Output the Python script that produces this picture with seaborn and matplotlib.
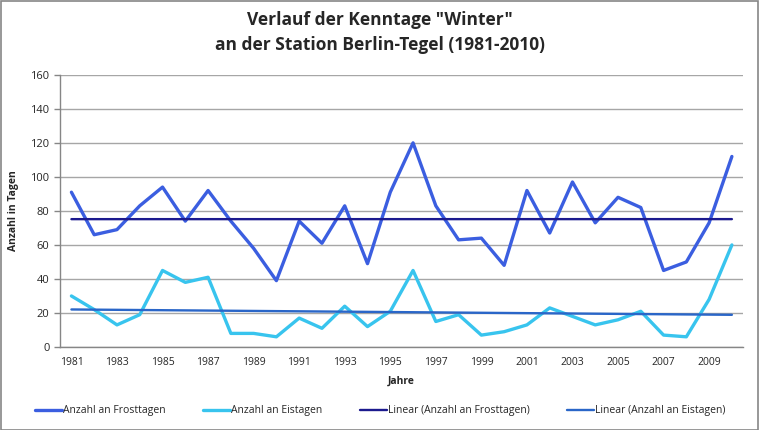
"""Kenntage Winter, Berlin-Tegel 1981-2010: Frost- und Eistage mit linearem Trend."""

import matplotlib.pyplot as plt
import numpy as np
import pandas as pd
import seaborn as sns

YEARS = list(range(1981, 2011))
FROSTTAGE = [91, 66, 69, 83, 94, 74, 92, 74, 58, 39,
             74, 61, 83, 49, 91, 120, 83, 63, 64, 48,
             92, 67, 97, 73, 88, 82, 45, 50, 73, 112]
EISTAGE = [30, 22, 13, 19, 45, 38, 41, 8, 8, 6,
           17, 11, 24, 12, 21, 45, 15, 19, 7, 9,
           13, 23, 18, 13, 16, 21, 7, 6, 28, 60]
TICK_YEARS = YEARS[::2]

C_FROST = "#3b5ee0"
C_EIS = "#38c4ee"
C_FROST_TREND = "#1c1a8e"
C_EIS_TREND = "#2a66c8"


def trend(values):
    x = np.arange(len(values))
    k, d = np.polyfit(x, values, 1)
    return k * x + d


def main():
    sns.set_theme(style="white")
    plt.rcParams["font.family"] = ["Open Sans", "DejaVu Sans"]

    pos = np.arange(len(YEARS))
    df = pd.DataFrame({
        "pos": pos,
        "frost": FROSTTAGE,
        "eis": EISTAGE,
        "frost_trend": trend(FROSTTAGE),
        "eis_trend": trend(EISTAGE),
    })

    fig = plt.figure(figsize=(7.6, 4.3), dpi=100)
    ax = fig.add_axes([0.079, 0.193, 0.899, 0.633])

    sns.lineplot(data=df, x="pos", y="frost", ax=ax, color=C_FROST, linewidth=2.4,
                 label="Anzahl an Frosttagen")
    sns.lineplot(data=df, x="pos", y="eis", ax=ax, color=C_EIS, linewidth=2.4,
                 label="Anzahl an Eistagen")
    sns.lineplot(data=df, x="pos", y="frost_trend", ax=ax, color=C_FROST_TREND, linewidth=1.7,
                 label="Linear (Anzahl an Frosttagen)")
    sns.lineplot(data=df, x="pos", y="eis_trend", ax=ax, color=C_EIS_TREND, linewidth=1.7,
                 label="Linear (Anzahl an Eistagen)")

    ax.set_xlim(-0.5, len(YEARS) - 0.5)
    ax.set_ylim(0, 160)
    ax.set_yticks(range(0, 161, 20))
    ax.yaxis.grid(True, color="#a6a6a6", linewidth=1)
    ax.set_axisbelow(True)

    ax.set_xticks([YEARS.index(y) for y in TICK_YEARS])
    ax.set_xticklabels([str(y) for y in TICK_YEARS])
    ax.set_xticks(np.arange(-0.5, len(YEARS)), minor=True)
    ax.tick_params(axis="x", which="major", length=0, labelsize=7.5, pad=7)
    ax.tick_params(axis="x", which="minor", length=4, color="#868686", width=1, direction="out")
    ax.tick_params(axis="y", length=4, color="#868686", width=1, direction="out",
                   labelsize=8, left=True)

    for side in ["top", "right"]:
        ax.spines[side].set_visible(False)
    for side in ["left", "bottom"]:
        ax.spines[side].set_color("#868686")
        ax.spines[side].set_linewidth(1)

    ax.set_xlabel("Jahre", fontsize=7.5, fontweight="bold", labelpad=6)
    ax.set_ylabel("Anzahl in Tagen", fontsize=7.5, fontweight="bold", labelpad=8)

    handles, labels = ax.get_legend_handles_labels()
    ax.legend().remove()
    fig.legend(handles, labels, loc="center", bbox_to_anchor=(0.5, 0.045), ncol=4,
               frameon=False, fontsize=7.5, handlelength=2.6, handletextpad=0.1,
               columnspacing=3.6)

    fig.suptitle('Verlauf der Kenntage "Winter"\nan der Station Berlin-Tegel (1981-2010)',
                 y=0.975, fontsize=12.5, fontweight="bold", linespacing=1.5)

    fig.patches.append(plt.Rectangle((0.001, 0.001), 0.997, 0.997, transform=fig.transFigure,
                                     fill=False, edgecolor="#868686", linewidth=1.2))

    fig.savefig("out.png", dpi=100)
    plt.close(fig)


if __name__ == "__main__":
    main()
